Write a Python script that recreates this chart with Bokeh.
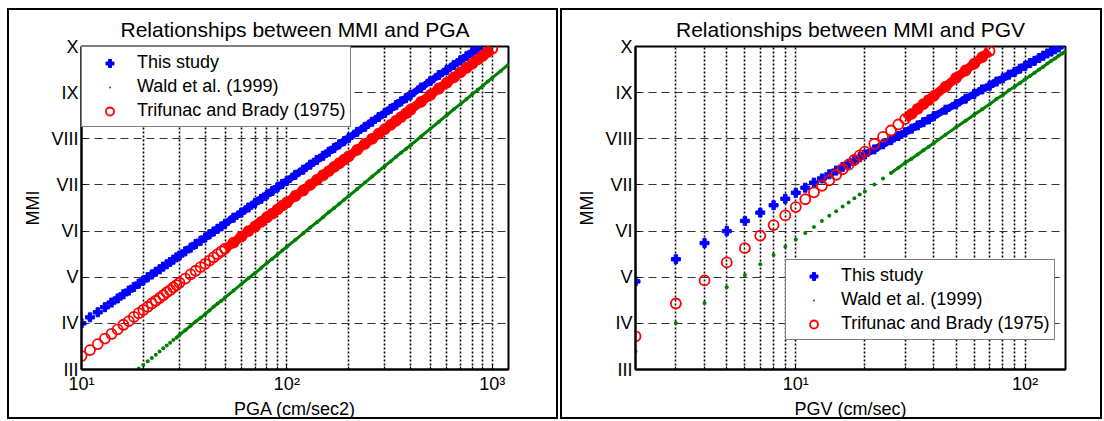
from bokeh.plotting import figure
from bokeh.models import Range1d, FixedTicker, Spacer
from bokeh.layouts import row, column
from bokeh.embed import file_html
from bokeh.resources import INLINE

FONT = "Liberation Sans"

# ---- y axis (Modified Mercalli Intensity) ----
mmi_ticks = [3, 4, 5, 6, 7, 8, 9, 10]
roman_labels = ["III", "IV", "V", "VI", "VII", "VIII", "IX", "X"]

# ---- left panel: PGA (cm/sec2) ----
pga = [10, 11, 12, 13, 14, 15, 16, 17, 18, 19, 20, 21, 22, 23, 24, 25, 26, 27, 28, 29, 30,
       32, 34, 36, 38, 40, 42, 44, 46, 48, 50,
       55, 60, 65, 70, 75, 80, 85, 90, 95, 100,
       110, 120, 130, 140, 150, 160, 170, 180, 190, 200,
       220, 240, 260, 280, 300, 320, 340, 360, 380, 400,
       450, 500, 550, 600, 650, 700, 750, 800, 850, 900, 950, 1000,
       1100, 1200]
# starts at PGA = 10
mmi_pga_this_study = [4.00, 4.13, 4.24, 4.35, 4.45, 4.54, 4.63, 4.71, 4.79, 4.86, 4.93, 5.00, 5.06, 5.12, 5.17, 5.23, 5.28, 5.33, 5.38, 5.43, 5.47,
                      5.56, 5.64, 5.72, 5.79, 5.86, 5.93, 5.99, 6.05, 6.10, 6.16,
                      6.29, 6.40, 6.51, 6.61, 6.70, 6.79, 6.87, 6.95, 7.02, 7.09,
                      7.22, 7.33, 7.44, 7.54, 7.63, 7.72, 7.80, 7.88, 7.95, 8.02,
                      8.15, 8.26, 8.37, 8.47, 8.56, 8.65, 8.73, 8.81, 8.88, 8.95,
                      9.11, 9.25, 9.38, 9.49, 9.60, 9.70, 9.79, 9.88, 9.96]
# starts at PGA = 10
mmi_pga_trifunac = [3.29, 3.42, 3.55, 3.67, 3.77, 3.87, 3.97, 4.05, 4.14, 4.22, 4.29, 4.36, 4.43, 4.49, 4.55, 4.61, 4.67, 4.72, 4.78, 4.83, 4.88,
                    4.97, 5.06, 5.14, 5.22, 5.29, 5.36, 5.43, 5.50, 5.56, 5.62,
                    5.75, 5.88, 6.00, 6.10, 6.20, 6.30, 6.38, 6.47, 6.55, 6.62,
                    6.76, 6.88, 7.00, 7.11, 7.21, 7.30, 7.39, 7.47, 7.55, 7.62,
                    7.76, 7.89, 8.00, 8.11, 8.21, 8.30, 8.39, 8.47, 8.55, 8.63,
                    8.80, 8.95, 9.09, 9.21, 9.33, 9.44, 9.54, 9.63, 9.72, 9.80, 9.88, 9.95]
# starts at PGA = 19 (lower values fall below III)
mmi_pga_wald = [3.02, 3.10, 3.18, 3.25, 3.32, 3.39, 3.46, 3.52, 3.58, 3.64, 3.69, 3.75,
                3.85, 3.95, 4.04, 4.12, 4.20, 4.28, 4.36, 4.43, 4.49, 4.56,
                4.71, 4.85, 4.98, 5.09, 5.20, 5.31, 5.40, 5.49, 5.58, 5.66,
                5.81, 5.95, 6.08, 6.19, 6.30, 6.41, 6.50, 6.59, 6.68, 6.76,
                6.91, 7.05, 7.18, 7.30, 7.41, 7.51, 7.61, 7.70, 7.78, 7.86,
                8.05, 8.22, 8.37, 8.51, 8.64, 8.75, 8.86, 8.97, 9.06, 9.15, 9.24, 9.32,
                9.47, 9.61]

# ---- right panel: PGV (cm/sec) ----
pgv = [2, 3, 4, 5, 6, 7, 8, 9, 10, 11, 12, 13, 14, 15, 16, 17, 18, 19, 20,
       22, 24, 26, 28, 30, 32, 34, 36, 38, 40,
       45, 50, 55, 60, 65, 70, 75, 80, 85, 90, 95, 100, 105, 110, 115, 120, 125, 130, 135, 140, 145, 150]
mmi_pgv_this_study = [4.91, 5.39, 5.74, 6.00, 6.22, 6.40, 6.56, 6.70, 6.83, 6.94, 7.05, 7.14, 7.23, 7.31, 7.39, 7.46, 7.53, 7.60, 7.66,
                      7.77, 7.88, 7.97, 8.06, 8.14, 8.22, 8.29, 8.36, 8.42, 8.49,
                      8.63, 8.75, 8.87, 8.97, 9.07, 9.15, 9.24, 9.31, 9.39, 9.45, 9.52, 9.58, 9.64, 9.69, 9.75, 9.80, 9.85, 9.89, 9.94, 9.98]
mmi_pgv_wald = [3.39, 4.01, 4.44, 4.78, 5.05, 5.28, 5.48, 5.66, 5.82, 5.96, 6.09, 6.22, 6.33, 6.43, 6.53, 6.62, 6.71, 6.79, 6.86,
                7.01, 7.14, 7.26, 7.37, 7.48, 7.57, 7.66, 7.75, 7.83, 7.91,
                8.09, 8.25, 8.39, 8.52, 8.64, 8.75, 8.86, 8.95, 9.05, 9.13, 9.21, 9.29, 9.36, 9.43, 9.50, 9.56, 9.63, 9.69, 9.74, 9.80, 9.85, 9.90]
mmi_pgv_trifunac = [3.72, 4.43, 4.93, 5.32, 5.63, 5.90, 6.13, 6.34, 6.52, 6.69, 6.84, 6.98, 7.10, 7.22, 7.34, 7.44, 7.54, 7.64, 7.72,
                    7.89, 8.04, 8.18, 8.31, 8.43, 8.54, 8.65, 8.75, 8.84, 8.93,
                    9.13, 9.32, 9.48, 9.63, 9.77, 9.90]

series_names = ["This study", "Wald et al. (1999)", "Trifunac and Brady (1975)"]

BLUE, GREEN, RED = "#0000ff", "#008000", "#ff0000"


def make_panel(title, xlabel, xr, major, major_labels, minor, width, mb_left, mb_right):
    p = figure(width=width, height=411, x_axis_type="log",
               x_range=Range1d(*xr), y_range=Range1d(3, 10),
               output_backend="svg", toolbar_location=None,
               min_border_left=mb_left, min_border_right=mb_right,
               min_border_top=34, min_border_bottom=50, title=title)
    p.styles = {"border": "2px solid black"}
    p.background_fill_color = "white"
    p.border_fill_color = "white"
    p.outline_line_color = "black"
    p.outline_line_width = 2

    p.title.text_font = FONT
    p.title.text_font_size = "21px"
    p.title.text_font_style = "normal"
    p.title.align = "center"
    p.title.text_color = "black"
    p.title.standoff = 11

    xa = p.xaxis[0]
    xa.ticker = FixedTicker(ticks=major, minor_ticks=minor)
    xa.major_label_overrides = dict(zip(major, major_labels))
    ya = p.yaxis[0]
    ya.ticker = FixedTicker(ticks=mmi_ticks)
    ya.major_label_overrides = dict(zip(mmi_ticks, roman_labels))
    for ax in (xa, ya):
        ax.axis_line_color = "black"
        ax.axis_line_width = 2
        ax.major_tick_in = 5
        ax.major_tick_out = 0
        ax.minor_tick_in = 3
        ax.minor_tick_out = 0
        ax.major_tick_line_color = "black"
        ax.minor_tick_line_color = "black"
        ax.major_label_text_font = FONT
        ax.major_label_text_font_size = "18px"
        ax.major_label_text_color = "black"
        ax.axis_label_text_font = FONT
        ax.axis_label_text_font_size = "18px"
        ax.axis_label_text_font_style = "normal"
        ax.axis_label_text_color = "black"
    xa.axis_label = xlabel
    xa.major_label_standoff = 4
    xa.axis_label_standoff = 2
    ya.axis_label = "MMI"
    ya.major_label_standoff = 3
    ya.axis_label_standoff = 5

    p.xgrid.ticker = FixedTicker(ticks=major + minor)
    p.xgrid.grid_line_color = "black"
    p.xgrid.grid_line_width = 1.6
    p.xgrid.grid_line_dash = "2 2"
    p.ygrid.ticker = FixedTicker(ticks=mmi_ticks)
    p.ygrid.grid_line_color = "#333333"
    p.ygrid.grid_line_width = 1.2
    p.ygrid.grid_line_dash = "8 5"
    return p


def style_legend(p, location):
    leg = p.legend[0]
    leg.location = location
    leg.margin = 0
    leg.padding = 5
    leg.spacing = 3
    leg.label_height = 20
    leg.glyph_height = 20
    leg.glyph_width = 45
    leg.label_standoff = 5
    leg.label_text_font = FONT
    leg.label_text_font_size = "18px"
    leg.label_text_color = "black"
    leg.border_line_color = "black"
    leg.border_line_width = 1.2
    leg.background_fill_color = "white"
    leg.background_fill_alpha = 1.0


# ----- left: PGA -----
p1 = make_panel("Relationships between MMI and PGA", "PGA (cm/sec2)", (10, 1200),
                [10, 100, 1000], ["10\u00b9", "10\u00b2", "10\u00b3"],
                [20, 30, 40, 50, 60, 70, 80, 90, 200, 300, 400, 500, 600, 700, 800, 900],
                551, 72, 52)
x_ts1 = pga[:len(mmi_pga_this_study)]
x_tb1 = pga[:len(mmi_pga_trifunac)]
x_wd1 = pga[len(pga) - len(mmi_pga_wald):]
# dense bands
p1.line(x_ts1[25:], mmi_pga_this_study[25:], line_color=BLUE, line_width=7)
p1.line(x_tb1[30:], mmi_pga_trifunac[30:], line_color=RED, line_width=9)
p1.line(x_wd1[10:], mmi_pga_wald[10:], line_color=GREEN, line_width=3)
p1.scatter(x_ts1, mmi_pga_this_study, marker="plus", size=9, color=BLUE, legend_label=series_names[0])
p1.scatter(x_wd1, mmi_pga_wald, marker="dot", size=16, color=GREEN, legend_label=series_names[1])
p1.scatter(x_tb1, mmi_pga_trifunac, marker="circle", size=10, fill_color=None, line_color=RED,
           line_width=1.8, legend_label=series_names[2])
style_legend(p1, "top_left")

# ----- right: PGV -----
p2 = make_panel("Relationships between MMI and PGV", "PGV (cm/sec)", (2, 150),
                [10, 100], ["10\u00b9", "10\u00b2"],
                [2, 3, 4, 5, 6, 7, 8, 9, 20, 30, 40, 50, 60, 70, 80, 90],
                542, 73, 39)
x_ts2 = pgv[:len(mmi_pgv_this_study)]
x_tb2 = pgv[:len(mmi_pgv_trifunac)]
x_wd2 = pgv[:len(mmi_pgv_wald)]
p2.line(x_ts2[18:], mmi_pgv_this_study[18:], line_color=BLUE, line_width=7)
p2.line(x_tb2[23:], mmi_pgv_trifunac[23:], line_color=RED, line_width=9)
p2.line(x_wd2[21:], mmi_pgv_wald[21:], line_color=GREEN, line_width=3)
p2.scatter(x_ts2, mmi_pgv_this_study, marker="plus", size=9, color=BLUE, legend_label=series_names[0])
p2.scatter(x_wd2, mmi_pgv_wald, marker="dot", size=16, color=GREEN, legend_label=series_names[1])
p2.scatter(x_tb2, mmi_pgv_trifunac, marker="circle", size=10, fill_color=None, line_color=RED,
           line_width=1.8, legend_label=series_names[2])
style_legend(p2, (150, 29))

layout = column(Spacer(height=8),
                row(Spacer(width=7), p1, Spacer(width=2), p2, spacing=0),
                spacing=0)
open("out.html", "w").write(file_html(layout, INLINE))
